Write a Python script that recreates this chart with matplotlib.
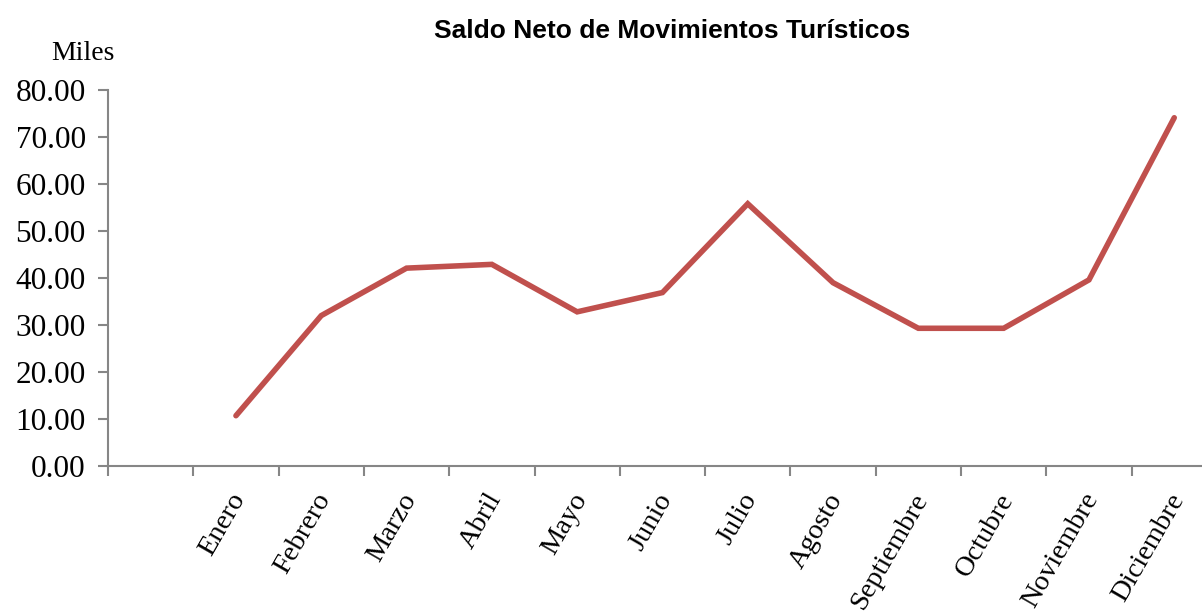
import matplotlib
matplotlib.use("Agg")
import matplotlib.pyplot as plt
import matplotlib.transforms as mtransforms
import numpy as np

### data ###
meses = ["Enero", "Febrero", "Marzo", "Abril", "Mayo", "Junio", "Julio",
         "Agosto", "Septiembre", "Octubre", "Noviembre", "Diciembre"]
saldo = [10.7, 32.0, 42.1, 42.9, 32.8, 36.9, 55.8, 39.0, 29.3, 29.3, 39.6, 74.1]
yticks = [0, 10, 20, 30, 40, 50, 60, 70, 80]

serif = ["Liberation Serif", "DejaVu Serif"]
sans = ["Liberation Sans", "DejaVu Sans"]
gris = "#868686"
rojo = "#C0504D"

W, H = 1202, 611
fig = plt.figure(figsize=(W / 100, H / 100), dpi=100)

# plot area: y axis at x=108, x axis at y=466, 80 at y=90, 13 slots of ~85.3px
slot = 85.3
left, right = 108, 108 + 13 * slot
bottom, top = 466, 90
ax = fig.add_axes([left / W, 1 - bottom / H, (right - left) / W, (bottom - top) / H])

# first slot is empty, months at 1..12
x = np.arange(1, len(meses) + 1)
ax.plot(x, saldo, color=rojo, lw=4.0, solid_capstyle="round", solid_joinstyle="miter")

ax.set_xlim(-0.5, 12.5)
ax.set_ylim(0, 80)

for s in ["top", "right"]:
    ax.spines[s].set_visible(False)
for s in ["left", "bottom"]:
    ax.spines[s].set_color(gris)
    ax.spines[s].set_linewidth(1.5)

ax.set_yticks(yticks)
ax.set_yticklabels(["%.2f" % v for v in yticks], fontfamily=serif, fontsize=22.5)
ax.tick_params(axis="y", direction="out", length=7, width=1.5, color=gris, pad=9)

ax.set_xticks(np.arange(-0.5, 12.5, 1.0))
ax.set_xticklabels([])
ax.tick_params(axis="x", which="major", direction="out", length=7, width=1.5, color=gris)
ax.set_xticks(x, minor=True)
ax.set_xticklabels(meses, minor=True, fontfamily=serif, fontsize=20.5,
                   rotation=60, ha="right", va="center", rotation_mode="anchor")
ax.tick_params(axis="x", which="minor", length=0, pad=21)
shift = mtransforms.ScaledTranslation(4 / 100, 0, fig.dpi_scale_trans)
for lbl in ax.get_xticklabels(minor=True):
    lbl.set_transform(lbl.get_transform() + shift)

fig.text(115 / W, 1 - 60 / H, "Miles", ha="right", va="baseline",
         fontfamily=serif, fontsize=20)
fig.text(672 / W, 1 - 38 / H, "Saldo Neto de Movimientos Turísticos",
         ha="center", va="baseline", fontfamily=sans, fontsize=19, fontweight="bold")

fig.savefig("out.png", dpi=100)
